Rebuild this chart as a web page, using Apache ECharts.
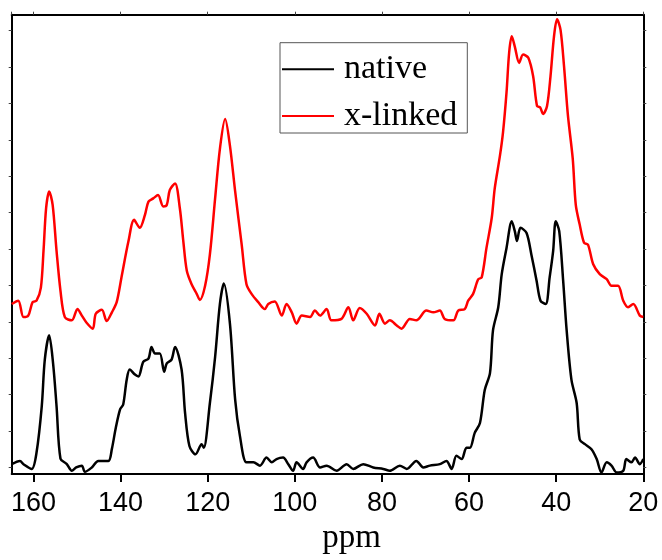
<!DOCTYPE html>
<html>
<head>
<meta charset="utf-8">
<script src="https://cdn.jsdelivr.net/npm/echarts@6/dist/echarts.min.js"></script>
<style>html,body{margin:0;padding:0;background:#fff;}#c{width:662px;height:560px;}</style>
</head>
<body>
<div id="c"></div>
<script>
// chemical shift (ppm) and intensity (a.u.)
var nativePpm = [165.0,163.1,162.3,160.4,159.3,158.1,157.4,156.4,155.5,154.7,153.8,152.4,151.2,150.2,148.9,148.2,146.6,145.1,142.8,142.0,141.1,140.1,139.4,138.6,137.9,136.7,135.9,134.8,133.6,132.9,132.1,131.0,130.0,129.4,128.3,127.5,126.0,125.2,124.2,122.8,121.4,120.9,119.5,118.3,117.2,116.3,114.9,113.7,112.6,111.1,109.5,108.0,106.5,105.3,104.2,102.7,101.5,100.4,99.6,98.1,97.3,95.8,94.2,92.7,90.4,88.1,86.6,84.3,82.0,79.7,78.2,75.9,74.3,72.1,70.5,69.0,66.7,65.2,64.0,62.9,61.7,60.6,59.8,58.7,57.5,56.4,55.2,54.5,53.3,52.5,51.4,50.2,49.5,49.0,48.2,46.8,45.7,44.5,43.6,42.4,41.5,40.7,40.1,39.3,38.4,37.6,36.5,35.3,34.6,33.4,31.9,30.7,29.6,28.4,27.3,26.1,24.6,23.9,22.7,21.9,20.8,20.0];
var nativeInt = [0.9,1.8,0.9,-0.4,4.1,16.8,29.6,36.3,28.6,16.8,2.4,1.0,-0.9,0,0.5,-1.2,0,1.8,1.8,5.1,10.9,16.0,17.3,24.1,26.9,25.5,25.0,29.0,29.9,33.1,31.3,31.3,26.3,28.6,29.6,33.1,26.9,15.0,5.9,3.6,6.4,5.4,17.7,30.4,44.9,50.5,39.5,18.6,8.6,1.4,1.4,0.5,2.7,1.4,2.3,2.7,0.9,-0.9,1.4,-0.4,1.4,2.7,0,0.5,-0.9,0.9,-0.4,0.9,0,-0.4,-0.9,0.5,-0.4,1.8,0,0.5,0.9,1.8,-0.4,3.2,2.3,5.4,5.4,9.5,12.2,21.3,25.9,37.7,44.0,53.1,60.3,67.6,64.9,62.2,65.8,64.4,58.5,51.3,45.8,44.9,52.2,59.4,67.6,64.9,51.3,37.7,24.1,17.7,7.7,6.4,5.0,2.3,-1.4,1.4,0.5,-1.4,-0.9,2.3,1.4,2.7,0.9,2.3];
var linkedPpm = [165.0,163.5,162.3,161.2,160.2,159.3,158.3,157.7,157.1,156.4,155.6,154.7,153.8,152.8,151.2,149.9,148.9,147.9,146.4,145.7,144.3,143.2,142.0,140.9,139.8,138.2,136.9,135.6,134.4,133.6,132.5,131.4,130.2,129.4,128.7,127.5,126.4,125.6,124.8,123.7,122.5,121.8,120.6,119.5,118.3,117.2,116.0,114.9,113.7,112.2,111.1,109.9,108.4,106.9,106.1,104.6,103.0,101.9,100.7,99.6,98.4,96.5,95.4,94.2,92.7,91.6,89.3,87.7,86.6,85.1,83.5,81.6,80.6,79.3,78.2,76.6,75.5,73.6,72.1,69.8,68.2,66.7,65.6,63.6,62.5,61.0,60.2,59.1,57.9,57.1,56.0,54.8,54.1,52.9,52.2,51.4,50.8,50.2,49.5,48.5,47.6,46.4,45.3,44.4,43.7,43.0,42.1,41.3,40.5,39.8,39.0,38.2,37.3,36.2,35.5,34.6,33.6,32.7,31.5,30.0,28.4,27.3,25.8,24.6,23.5,22.3,20.8,20.0];
var linkedInt = [44.9,45.8,41.3,41.7,45.4,45.8,49.4,59.4,71.2,75.8,72.1,59.4,48.5,41.3,40.4,43.5,41.7,39.9,38.1,42.2,43.3,40.2,42.6,45.4,52.2,62.1,68.0,65.8,69.4,73.0,73.9,74.8,71.7,72.1,76.2,78.0,71.2,62.1,54.0,50.3,47.6,46.0,49.9,58.5,73.9,87.5,95.7,88.4,75.8,61.2,50.3,47.6,45.4,43.5,44.9,45.6,41.7,44.9,42.6,39.5,41.7,41.3,43.1,41.7,43.5,40.4,40.8,44.0,40.4,43.8,42.2,39.0,42.2,39.5,40.4,39.0,38.1,40.8,40.4,43.1,42.6,43.1,40.8,40.4,43.1,43.5,45.8,47.6,51.7,52.2,60.3,68.5,76.7,85.7,92.1,103.0,113.9,118.4,115.6,111.1,113.4,112.5,107.5,99.3,98.9,97.1,99.3,107.5,118.4,123.1,120.2,110.2,96.6,84.8,72.1,66.7,61.7,61.2,55.8,53.1,51.7,49.9,49.9,45.8,44.0,44.9,41.7,41.3];
var xTicks = [20, 40, 60, 80, 100, 120, 140, 160];
var yTicks = [0,10,20,30,40,50,60,70,80,90,100,110,120];
var seriesNames = ['native', 'x-linked'];

function pairs(xs, ys) { return xs.map(function (x, i) { return [x, ys[i]]; }); }

var chart = echarts.init(document.getElementById('c'), null, {renderer: 'canvas'});
var sansFont = '"Liberation Sans", Arial, sans-serif';
var serifFont = '"Liberation Serif", "Times New Roman", serif';
var xBase = {type: 'value', min: 20, max: 165, interval: 20, inverse: true, splitLine: {show: false}};
var yBase = {type: 'value', min: -1.8, max: 124.35, splitLine: {show: false}, axisLabel: {show: false}};

chart.setOption({
  animation: false,
  backgroundColor: '#fff',
  grid: {left: 11.7, right: 18.7, top: 14.7, bottom: 81.7, containLabel: false},
  legend: {
    data: seriesNames,
    orient: 'vertical',
    left: 280, top: 42.7,
    padding: [9.6, 10, 0, 2],
    itemGap: 12.7,
    icon: 'rect',
    itemWidth: 52, itemHeight: 2,
    borderColor: '#555', borderWidth: 1,
    backgroundColor: '#fff',
    textStyle: {fontFamily: serifFont, fontSize: 34, lineHeight: 34, color: '#000', padding: [0, 0, 0, 5]}
  },
  xAxis: [
    Object.assign({}, xBase, {
      position: 'bottom',
      name: 'ppm', nameLocation: 'middle', nameGap: 48,
      nameTextStyle: {fontFamily: serifFont, fontSize: 33, color: '#000', padding: [0, 0, 0, 48]},
      axisLine: {show: true, onZero: false, lineStyle: {color: '#000', width: 2}},
      axisTick: {show: true, inside: false, length: 8, lineStyle: {color: '#000', width: 2}},
      axisLabel: {show: true, margin: 16, fontFamily: sansFont, fontSize: 27, color: '#000'}
    }),
    Object.assign({}, xBase, {
      position: 'top',
      axisLine: {show: true, onZero: false, lineStyle: {color: '#000', width: 2}},
      axisTick: {show: true, inside: false, length: 3, lineStyle: {color: '#444', width: 1}},
      axisLabel: {show: false}
    })
  ],
  yAxis: [
    Object.assign({}, yBase, {
      position: 'left',
      axisLine: {show: true, onZero: false, lineStyle: {color: '#000', width: 2}},
      axisTick: {show: true, inside: false, length: 3, customValues: yTicks, lineStyle: {color: '#444', width: 1}}
    }),
    Object.assign({}, yBase, {
      position: 'right',
      axisLine: {show: true, onZero: false, lineStyle: {color: '#000', width: 2}},
      axisTick: {show: true, inside: false, length: 3, customValues: yTicks, lineStyle: {color: '#444', width: 1}}
    })
  ],
  series: [
    {
      name: seriesNames[0], type: 'line', xAxisIndex: 0, yAxisIndex: 0,
      data: pairs(nativePpm, nativeInt), showSymbol: false, symbol: 'none', smooth: 0.3,
      lineStyle: {color: '#000', width: 2.5}, itemStyle: {color: '#000'}
    },
    {
      name: seriesNames[1], type: 'line', xAxisIndex: 0, yAxisIndex: 0,
      data: pairs(linkedPpm, linkedInt), showSymbol: false, symbol: 'none', smooth: 0.3,
      lineStyle: {color: '#ff0000', width: 2.5}, itemStyle: {color: '#ff0000'}
    }
  ]
});
</script>
</body>
</html>
